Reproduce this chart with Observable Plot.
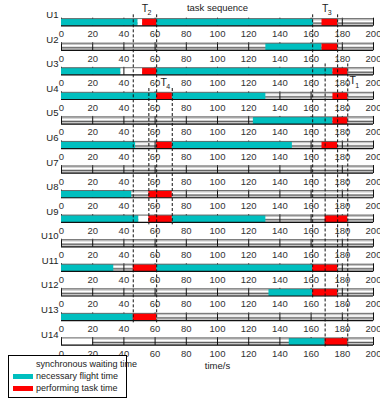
<!DOCTYPE html>
<html>
<head>
<meta charset="utf-8">
<script src="https://cdn.jsdelivr.net/npm/d3@7"></script>
<script src="https://cdn.jsdelivr.net/npm/@observablehq/plot@0.6"></script>
<style>
  body { margin: 0; background: #fff; }
  #wrap { position: relative; width: 380px; height: 400px;
          font-family: "Liberation Sans Narrow", "Arial Narrow", "Liberation Sans", Arial, sans-serif; }
  #legend { position: absolute; left: 8px; top: 355px; width: 117px; height: 41px;
            border: 1.5px solid #000; background: #fff; font-size: 9px; color: #222; }
  #legend .item { position: absolute; left: 0; height: 11px; line-height: 11px; white-space: nowrap; }
  #legend .sw { position: absolute; left: 4px; top: 3px; width: 20px; height: 5px; }
  #legend .lab { position: absolute; left: 27px; top: 0; }
</style>
</head>
<body>
<div id="wrap">
  <div id="chart"></div>
  <div id="legend"></div>
</div>
<script>
// UAV rows and time axis ticks (seconds)
const rows = ["U1","U2","U3","U4","U5","U6","U7","U8","U9","U10","U11","U12","U13","U14"];
const tickValues = [0, 20, 40, 60, 80, 100, 120, 140, 160, 180, 200];

// necessary flight time segments: [uav, start, end]
const flightTime = [
  ["U1", 0, 49], ["U1", 61, 161.5],
  ["U2", 131, 167],
  ["U3", 0, 38], ["U3", 61, 174],
  ["U4", 0, 61], ["U4", 71, 131],
  ["U5", 123, 174],
  ["U6", 0, 47.5], ["U6", 71, 148],
  ["U8", 0, 45],
  ["U9", 0, 49.5], ["U9", 71, 131],
  ["U11", 0, 33.5], ["U11", 61, 161],
  ["U12", 133, 161],
  ["U13", 0, 46],
  ["U14", 146, 169]
];

// synchronous waiting time segments: [uav, start, end]
const waitingTime = [
  ["U1", 49, 52], ["U3", 38, 52], ["U9", 49.5, 56], ["U14", 0, 20]
];

// performing task time segments: [uav, task, start, end]
const taskTime = [
  ["U1", "T2", 52, 61], ["U1", "T3", 167, 177],
  ["U2", "T3", 167, 177],
  ["U3", "T2", 52, 61], ["U3", "T1", 174, 183.5],
  ["U4", "T4", 61, 71], ["U4", "T1", 174, 183.5],
  ["U5", "T1", 174, 183.5],
  ["U6", "T4", 61, 71], ["U6", "T3", 167, 177],
  ["U8", "T4", 56, 71],
  ["U9", "T4", 56, 71], ["U9", "T1", 169, 183.5],
  ["U11", "T2", 46, 61], ["U11", "T3", 161, 177],
  ["U12", "T3", 161, 177],
  ["U13", "T2", 46, 61],
  ["U14", "T1", 169, 183.5]
];

// time window of each task in the sequence: [task, start, end]
const taskWindows = [["T2", 46, 61], ["T4", 56, 71], ["T3", 161, 177], ["T1", 169, 183.5]];

const CYAN = "#00bfbf", RED = "#ff0000", BOX = "#c6c6c6";
const rowNum = r => rows.indexOf(r) + 1;

const tickData = rows.flatMap(r => tickValues.map(v => ({row: r, v})));

// dashed guides spanning the UAVs that take part in each task
const windows = taskWindows.map(([name, start, end]) => {
  const used = taskTime.filter(t => t[1] === name).map(t => rowNum(t[0]));
  return {name, start, end, first: d3.min(used), last: d3.max(used)};
});
const guides = windows.flatMap(w => [w.start, w.end].map(x => ({x, y1: w.first - 0.3, y2: w.last + 0.25})));
const labelsTop = windows.filter(w => w.name !== "T1");
const labelsSide = windows.filter(w => w.name === "T1");
// label centre of a window; windows opening below the first row sit a little right of the tick text
const labelX = d => (d.start + d.end) / 2 + (d.first > 1 ? 2 : 0);

const flight = flightTime.map(([row, start, end]) => ({row, start, end}));
const waiting = waitingTime.map(([row, start, end]) => ({row, start, end}));
const tasks = taskTime.map(([row, task, start, end]) => ({row, task, start, end}));

const fy = d => rowNum(d.row);
const font = '"Liberation Sans Narrow", "Arial Narrow", "Liberation Sans", Arial, sans-serif';

const chart = Plot.plot({
  width: 380,
  height: 400,
  marginLeft: 61,
  marginRight: 7,
  marginTop: 0,
  marginBottom: 0,
  style: {fontFamily: font, fontSize: "9.5px", background: "white", overflow: "visible"},
  x: {domain: [0, 200], axis: null},
  y: {domain: [1, 14], range: [21.7, 341], axis: null},
  marks: [
    // each UAV's timeline box
    Plot.ruleY(rows, {y: rowNum, x1: 0, x2: 200, stroke: BOX, strokeWidth: 8}),
    Plot.ruleY(rows, {y: rowNum, x1: 0, x2: 200, stroke: "white", strokeWidth: 1.5, dy: -1}),
    Plot.ruleY(rows, {y: rowNum, x1: 0, x2: 200, stroke: "#444", strokeWidth: 0.8, dy: 1}),
    Plot.ruleY(waiting, {y: fy, x1: "start", x2: "end", stroke: "white", strokeWidth: 6.5}),
    Plot.ruleX(tickData, {x: "v", y1: fy, y2: fy, insetTop: -4, insetBottom: -4, stroke: "#111", strokeWidth: 1}),
    Plot.ruleY(flight, {y: fy, x1: "start", x2: "end", stroke: CYAN, strokeWidth: 7}),
    Plot.ruleY(tasks, {y: fy, x1: "start", x2: "end", stroke: RED, strokeWidth: 7}),
    Plot.ruleY(rows, {y: rowNum, x1: 0, x2: 200, stroke: "#555", strokeWidth: 0.8, dy: -3.6}),
    Plot.ruleY(rows, {y: rowNum, x1: 0, x2: 200, stroke: "#111", strokeWidth: 1.2, dy: 3.6}),
    // task time windows
    Plot.ruleX(guides, {x: "x", y1: "y1", y2: "y2", stroke: "#111", strokeWidth: 1, strokeDasharray: "3,2"}),
    // per-row tick labels
    Plot.text(tickData, {x: "v", y: fy, text: d => String(d.v), dy: 12, fill: "#333", fontSize: 9.5}),
    // UAV names
    Plot.text(rows, {x: 0, y: rowNum, text: d => d, dx: -3, dy: -7, textAnchor: "end", fill: "#222", fontSize: 9.5}),
    // task names with subscripts
    Plot.text(labelsTop, {x: labelX, y: "first", text: () => "T", dy: -13.5, fontSize: 10.5, fill: "#222"}),
    Plot.text(labelsTop, {x: labelX, y: "first", text: d => d.name.slice(1), dx: 4.5, dy: -9, fontSize: 7, fill: "#222"}),
    Plot.text(labelsSide, {x: "end", y: "first", text: () => "T", dx: 5, dy: 9.5, fontSize: 10.5, fill: "#222"}),
    Plot.text(labelsSide, {x: "end", y: "first", text: d => d.name.slice(1), dx: 9.5, dy: 14, fontSize: 7, fill: "#222"}),
    // titles
    Plot.text(["task sequence"], {x: 100, y: 1, text: d => d, dy: -14, fontSize: 9.5, fill: "#222"}),
    Plot.text(["time/s"], {x: 100, y: 14, text: d => d, dy: 24, fontSize: 9.5, fill: "#222"})
  ]
});
document.getElementById("chart").appendChild(chart);

// legend
const legendItems = [
  {label: "synchronous waiting time", color: "white"},
  {label: "necessary flight time", color: CYAN},
  {label: "performing task time", color: RED}
];
const legend = document.getElementById("legend");
legendItems.forEach((it, i) => {
  const item = document.createElement("div");
  item.className = "item";
  item.style.top = (3 + i * 12) + "px";
  item.style.width = "117px";
  const sw = document.createElement("div");
  sw.className = "sw";
  sw.style.background = it.color;
  const lab = document.createElement("div");
  lab.className = "lab";
  lab.textContent = it.label;
  item.appendChild(sw);
  item.appendChild(lab);
  legend.appendChild(item);
});
</script>
</body>
</html>
